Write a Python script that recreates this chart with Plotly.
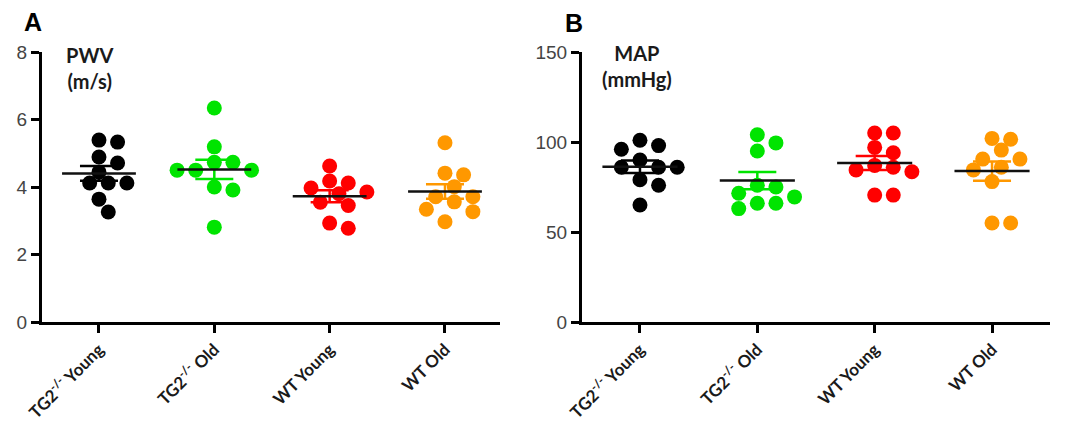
import numpy as np
import plotly.graph_objects as go

categories = ["TG2<sup>-/-</sup> Young", "TG2<sup>-/-</sup> Old", "WT Young", "WT Old"]
colors = ["#000000", "#00e400", "#ff0000", "#ff9800"]

pwv_tg2_young = [5.39, 5.33, 4.89, 4.71, 4.44, 4.12, 4.12, 4.12, 3.64, 3.26]
pwv_tg2_old = [6.34, 5.19, 4.73, 4.73, 4.50, 4.50, 4.50, 4.00, 3.91, 2.81]
pwv_wt_young = [4.62, 4.18, 4.12, 3.97, 3.85, 3.80, 3.55, 3.45, 2.93, 2.78]
pwv_wt_old = [5.31, 4.41, 4.36, 4.01, 3.71, 3.71, 3.56, 3.34, 3.27, 2.97]

map_tg2_young = [101, 98, 96, 90, 86, 86, 86, 79, 76, 65]
map_tg2_old = [104, 99.5, 95, 76, 75, 71.5, 69.5, 66, 66, 63]
map_wt_young = [105, 105, 97, 94, 87, 86, 84.5, 83.5, 70.5, 70.5]
map_wt_old = [102, 101.5, 95.5, 90.5, 90.5, 86, 84.5, 78, 55, 55]

pwv_groups = [pwv_tg2_young, pwv_tg2_old, pwv_wt_young, pwv_wt_old]
map_groups = [map_tg2_young, map_tg2_old, map_wt_young, map_wt_old]

W, H = 1077, 424
DIAM = 15


def swarm(values, px_per_cat, px_per_unit, diam=DIAM):
    """Beeswarm offsets (in category units) computed from the values."""
    order = np.argsort(values)[::-1]
    placed = []
    offs = [0.0] * len(values)
    cands = [0.0]
    for k in range(1, 8):
        cands += [k * diam * 0.62, -k * diam * 0.62]
    for i in order:
        yp = values[i] * px_per_unit
        for c in cands:
            ok = all((c - px) ** 2 + (yp - py) ** 2 >= (diam * 0.95) ** 2 for px, py in placed)
            if ok:
                placed.append((c, yp))
                offs[i] = c / px_per_cat
                break
    return offs


fig = go.Figure()

panels = [
    dict(groups=pwv_groups, xa="x", ya="y", px_cat=115.3, px_unit=33.75),
    dict(groups=map_groups, xa="x2", ya="y2", px_cat=117.3, px_unit=1.8),
]

for p in panels:
    mean_x, mean_y = [], []
    for gi, vals in enumerate(p["groups"]):
        offs = swarm(vals, p["px_cat"], p["px_unit"])
        fig.add_trace(go.Scatter(
            x=[gi + o for o in offs], y=vals, mode="markers",
            marker=dict(size=DIAM, color=colors[gi], line=dict(width=0)),
            xaxis=p["xa"], yaxis=p["ya"], showlegend=False, hoverinfo="skip"))
        arr = np.array(vals, dtype=float)
        m = arr.mean()
        sem = arr.std(ddof=1) / np.sqrt(len(arr))
        fig.add_trace(go.Scatter(
            x=[gi], y=[m], mode="markers", marker=dict(size=1, color=colors[gi], opacity=0),
            error_y=dict(type="data", array=[sem], color=colors[gi], thickness=2.5, width=19),
            xaxis=p["xa"], yaxis=p["ya"], showlegend=False, hoverinfo="skip"))
        mean_x += [gi - 0.32, gi + 0.32, None]
        mean_y += [m, m, None]
    fig.add_trace(go.Scatter(
        x=mean_x, y=mean_y, mode="lines", line=dict(color="#111111", width=2.5),
        xaxis=p["xa"], yaxis=p["ya"], showlegend=False, hoverinfo="skip"))

axis_common = dict(
    showline=True, linecolor="black", linewidth=3, showgrid=False, zeroline=False,
    ticks="outside", ticklen=8, tickwidth=3, tickcolor="black", automargin=False,
)
xfont = dict(family="Lato", size=17, color="#1a1a1a", weight="bold")
yfont = dict(family="Liberation Sans", size=19, color="#444444")

fig.update_layout(
    width=W, height=H, margin=dict(l=0, r=0, t=0, b=0, autoexpand=False),
    paper_bgcolor="white", plot_bgcolor="white",
    xaxis=dict(domain=[42 / W, 500 / W], range=[-0.494, 3.477], tickmode="array",
               tickvals=list(range(4)), ticktext=categories, tickangle=-45,
               tickfont=xfont, anchor="y", **axis_common),
    yaxis=dict(domain=[102 / H, 372 / H], range=[0, 8], tickvals=[0, 2, 4, 6, 8],
               tickfont=yfont, anchor="x", **axis_common),
    xaxis2=dict(domain=[582 / W, 1050 / W], range=[-0.494, 3.494], tickmode="array",
                tickvals=list(range(4)), ticktext=categories, tickangle=-45,
                tickfont=xfont, anchor="y2", **axis_common),
    yaxis2=dict(domain=[102 / H, 372 / H], range=[0, 150], tickvals=[0, 50, 100, 150],
                tickfont=yfont, anchor="x2", **axis_common),
)

ann_font = dict(family="Lato", size=20, color="#1a1a1a", weight="bold")
big_font = dict(family="Liberation Sans", size=25, color="black", weight="bold")
fig.add_annotation(text="A", x=33 / W, y=1 - 22 / H, xref="paper", yref="paper",
                   xanchor="center", yanchor="middle", showarrow=False, font=big_font)
fig.add_annotation(text="B", x=574 / W, y=1 - 23 / H, xref="paper", yref="paper",
                   xanchor="center", yanchor="middle", showarrow=False, font=big_font)
fig.add_annotation(text="PWV<br>(m/s)", x=89 / W, y=1 - 68 / H, xref="paper", yref="paper",
                   xanchor="center", yanchor="middle", showarrow=False, align="center", font=ann_font)
fig.add_annotation(text="MAP<br>(mmHg)", x=637 / W, y=1 - 66 / H, xref="paper", yref="paper",
                   xanchor="center", yanchor="middle", showarrow=False, align="center", font=ann_font)

fig.write_html("out.html")
